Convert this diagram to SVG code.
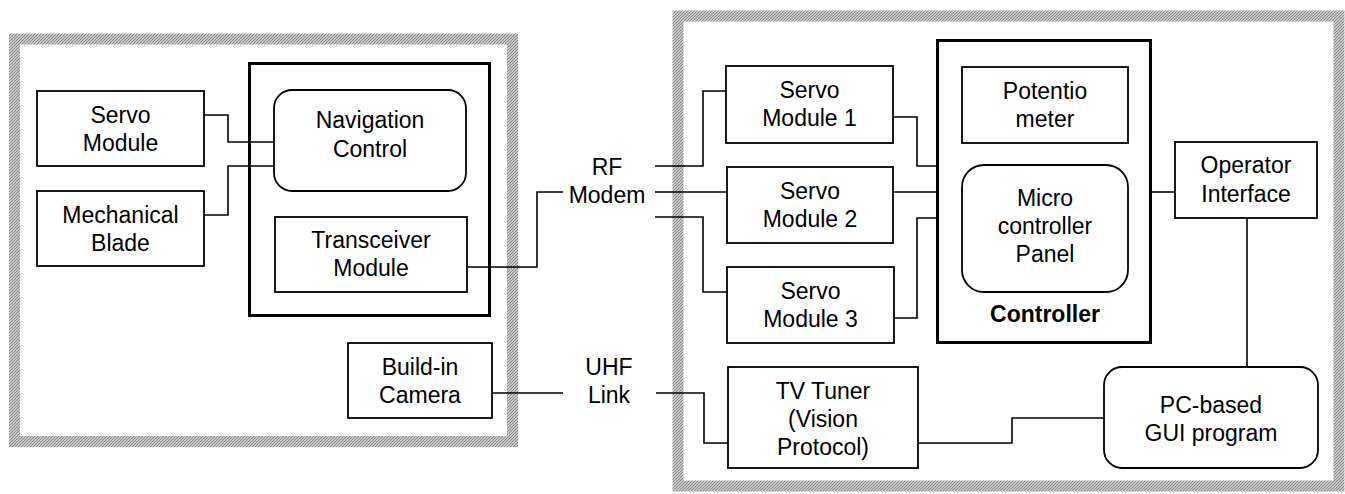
<svg xmlns="http://www.w3.org/2000/svg" width="1345" height="494" viewBox="0 0 1345 494">
<style>
  .box{fill:#fff;stroke:#000;stroke-width:1.8}
  .thick{fill:#fff;stroke:#000;stroke-width:3}
  .frame{fill:none;stroke:url(#dither);stroke-width:11}
  .t{font-family:"Liberation Sans",Arial,sans-serif;font-size:23px;fill:#000;text-anchor:middle}
  .b{font-weight:bold}
  .wire{fill:none;stroke:#000;stroke-width:1.6}
</style>
<defs>
  <pattern id="dither" width="3" height="3" patternUnits="userSpaceOnUse">
    <rect width="3" height="3" fill="#c6c6c6"/>
    <path d="M0,2h1v1h-1zM1,1h1v1h-1zM2,0h1v1h-1z" fill="#8a8a8a"/>
  </pattern>
</defs>
<rect width="1345" height="494" fill="#fff"/>
<g id="frame-vehicle"><rect class="frame" x="14.5" y="39" width="498" height="402.5"/></g>
<g id="frame-station"><rect class="frame" x="678" y="16" width="661" height="470"/></g>

<g id="nav-unit"><rect class="thick" x="249.5" y="63.5" width="240" height="252"/></g>
<g id="controller"><rect class="thick" x="937.5" y="40.5" width="213" height="302"/>
  <text class="t b" x="1045" y="322">Controller</text></g>

<g id="servo-module"><rect class="box" x="37" y="91" width="167" height="75"/>
  <text class="t" x="120.5" y="123">Servo</text><text class="t" x="120.5" y="151">Module</text></g>
<g id="mechanical-blade"><rect class="box" x="37" y="191" width="167" height="75"/>
  <text class="t" x="120.5" y="223">Mechanical</text><text class="t" x="120.5" y="251">Blade</text></g>
<g id="navigation-control"><rect class="box" x="274" y="90" width="192" height="101" rx="18"/>
  <text class="t" x="370" y="128">Navigation</text><text class="t" x="370" y="157">Control</text></g>
<g id="transceiver-module"><rect class="box" x="275" y="217" width="192" height="75"/>
  <text class="t" x="371" y="248">Transceiver</text><text class="t" x="371" y="276">Module</text></g>
<g id="build-in-camera"><rect class="box" x="348" y="343" width="144" height="75"/>
  <text class="t" x="420" y="375">Build-in</text><text class="t" x="420" y="403">Camera</text></g>

<g id="rf-modem"><text class="t" x="607" y="175">RF</text><text class="t" x="607" y="203">Modem</text></g>
<g id="uhf-link"><text class="t" x="609" y="375">UHF</text><text class="t" x="609" y="403">Link</text></g>

<g id="servo-module-1"><rect class="box" x="726" y="66" width="167" height="77"/>
  <text class="t" x="809.5" y="98">Servo</text><text class="t" x="809.5" y="126">Module 1</text></g>
<g id="servo-module-2"><rect class="box" x="727" y="167" width="166" height="76"/>
  <text class="t" x="810" y="199">Servo</text><text class="t" x="810" y="227">Module 2</text></g>
<g id="servo-module-3"><rect class="box" x="727" y="267" width="167" height="76"/>
  <text class="t" x="810.5" y="299">Servo</text><text class="t" x="810.5" y="327">Module 3</text></g>
<g id="tv-tuner"><rect class="box" x="728" y="367" width="190" height="101"/>
  <text class="t" x="823" y="399">TV Tuner</text><text class="t" x="823" y="427">(Vision</text><text class="t" x="823" y="455">Protocol)</text></g>
<g id="potentiometer"><rect class="box" x="962" y="67" width="166" height="76"/>
  <text class="t" x="1045" y="99">Potentio</text><text class="t" x="1045" y="127">meter</text></g>
<g id="micro-controller-panel"><rect class="box" x="962" y="165" width="166" height="127" rx="22"/>
  <text class="t" x="1045" y="206">Micro</text><text class="t" x="1045" y="234">controller</text><text class="t" x="1045" y="262">Panel</text></g>
<g id="operator-interface"><rect class="box" x="1175" y="142" width="142" height="76"/>
  <text class="t" x="1246" y="173">Operator</text><text class="t" x="1246" y="202">Interface</text></g>
<g id="pc-gui"><rect class="box" x="1104" y="367" width="214" height="101" rx="18"/>
  <text class="t" x="1211" y="413">PC-based</text><text class="t" x="1211" y="441">GUI program</text></g>

<g id="connectors">
  <path class="wire" d="M204,115H228V142H274"/>
  <path class="wire" d="M204,215H228V166H274"/>
  <path class="wire" d="M467,267H537V192H563"/>
  <path class="wire" d="M492,393H563"/>
  <path class="wire" d="M655,166H703V91H726"/>
  <path class="wire" d="M655,192H727"/>
  <path class="wire" d="M655,217H703V292H727"/>
  <path class="wire" d="M893,117H917V166H937"/>
  <path class="wire" d="M893,192H937"/>
  <path class="wire" d="M894,318H917V218H937"/>
  <path class="wire" d="M1151,192H1175"/>
  <path class="wire" d="M1247,218V367"/>
  <path class="wire" d="M656,393H704V443H728"/>
  <path class="wire" d="M918,443H1012V418H1104"/>
</g>
</svg>
